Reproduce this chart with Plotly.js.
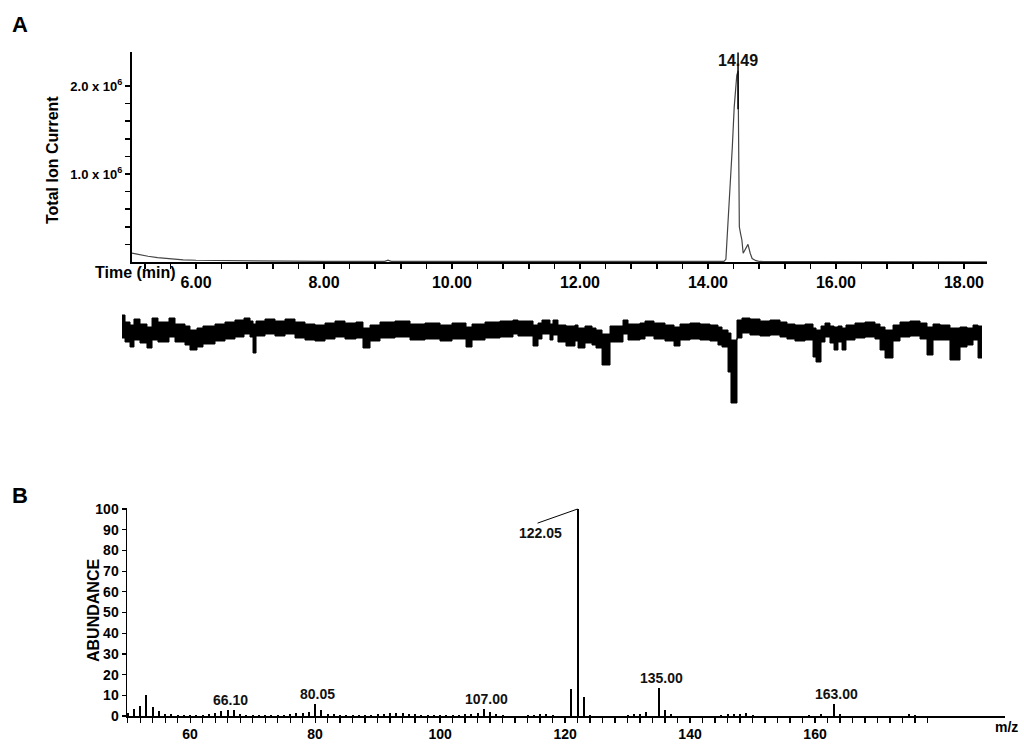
<!DOCTYPE html>
<html>
<head>
<meta charset="utf-8">
<script src="https://cdn.plot.ly/plotly-3.0.1.min.js"></script>
<style>html,body{margin:0;padding:0;background:#fff;}#chart{width:1024px;height:746px;}</style>
</head>
<body>
<div id="chart"></div>
<script>
// ---------- Panel A: total ion chromatogram ----------
const ticTime = [5.00,5.10,5.25,5.40,5.60,5.80,6.00,6.50,7.00,7.50,8.00,8.50,8.95,9.00,9.05,10.0,11.0,12.0,13.0,14.0,14.25,14.28,14.33,14.38,14.41,14.45,14.47,14.48,14.49,14.51,14.53,14.55,14.59,14.625,14.66,14.69,14.75,14.81,15.5,16.5,17.5,18.36];
const ticCurrent = [100000,85000,65000,50000,35000,25000,20000,14000,11000,9000,8000,7000,7000,20000,7000,6000,5000,5000,4000,4000,8000,30000,600000,1300000,1760000,2120000,2170000,1600000,400000,320000,250000,100000,160000,200000,100000,40000,15000,6000,4000,4000,3000,3000];
const peakLabel = "14.49";
const timeTickVals = [6,8,10,12,14,16,18];
const timeTickText = ["6.00","8.00","10.00","12.00","14.00","16.00","18.00"];
const ticTickVals = [1000000,2000000];
const ticTickText = ["1.0 x 10<sup>6</sup>","2.0 x 10<sup>6</sup>"];

// ---------- Detector trace strip (relative signal, envelope of the noisy trace) ----------
const stripTime = [4.844,4.891,4.969,5.031,5.125,5.234,5.313,5.406,5.578,5.672,5.828,5.906,6.016,6.109,6.297,6.453,6.609,6.75,6.844,6.891,6.938,7.078,7.234,7.391,7.547,7.703,7.859,8.016,8.172,8.328,8.5,8.609,8.719,8.875,9.109,9.344,9.578,9.813,10.0,10.219,10.313,10.516,10.75,10.953,11.031,11.266,11.344,11.406,11.531,11.578,11.656,11.781,11.922,11.969,12.078,12.188,12.25,12.344,12.469,12.672,12.75,12.938,13.016,13.156,13.328,13.469,13.563,13.719,13.875,14.031,14.156,14.219,14.313,14.359,14.453,14.531,14.656,14.813,14.969,15.125,15.234,15.359,15.516,15.641,15.688,15.766,15.828,15.906,15.969,16.031,16.094,16.156,16.297,16.453,16.609,16.688,16.766,16.891,17.0,17.156,17.313,17.422,17.516,17.625,17.781,17.938,18.047,18.141,18.219,18.281];
const stripHigh = [15,8,5,11,6,3,12,8,12,6,4,0,2,4,6,8,10,12,9,6,9,11,9,11,8,6,5,7,9,7,8,2,5,8,9,6,7,5,7,3,6,8,9,10,9,5,7,10,6,10,5,4,5,2,4,2,0,-4,4,10,6,7,9,7,5,3,6,7,6,5,3,0,-3,-10,10,12,11,9,10,8,6,5,6,2,0,4,7,4,3,4,2,5,7,8,6,3,0,5,8,9,7,3,6,5,2,3,2,5,4,4];
const stripLow = [-8,-12,-17,-10,-13,-18,-10,-12,-7,-12,-15,-20,-17,-14,-11,-9,-7,-4,-7,-23,-6,-4,-6,-4,-8,-10,-11,-9,-7,-9,-8,-18,-11,-8,-7,-10,-9,-11,-9,-17,-10,-8,-7,-4,-6,-16,-9,-4,-10,-5,-12,-16,-11,-18,-13,-15,-18,-35,-12,-4,-10,-9,-6,-9,-11,-16,-10,-9,-10,-11,-15,-17,-42,-73,-8,-3,-5,-6,-5,-7,-9,-11,-10,-27,-32,-12,-7,-13,-20,-12,-20,-10,-8,-7,-9,-20,-28,-11,-7,-6,-9,-25,-10,-10,-30,-17,-15,-10,-28,-28];

// ---------- Panel B: mass spectrum ----------
const mz = [50,51,52,53,54,55,56,57,58,59,60,61,62,63,64,65,66,67,68,69,70,71,72,73,74,75,76,77,78,79,80,81,82,83,84,85,86,87,88,89,90,91,92,93,94,95,96,97,98,99,100,101,102,103,104,105,106,107,108,109,110,114,115,116,117,118,121,122,123,124,130,131,132,133,135,136,137,145,146,147,148,149,150,159,161,163,164,175,176];
const abundance = [1.5,3.3,4.6,10.2,4.5,2.5,1.2,0.8,0.5,0.6,0.3,0.5,0.6,1.0,1.5,2.2,3.0,2.8,1.2,0.6,0.5,0.5,0.6,0.5,0.7,0.7,0.8,1.5,1.4,1.8,5.8,2.8,1.2,0.8,0.6,0.5,0.5,0.6,0.6,0.7,0.9,1.1,1.5,1.5,1.6,1.0,0.8,0.7,0.6,0.5,0.4,0.4,0.6,0.7,0.8,1.0,1.3,3.5,2.0,1.2,0.6,0.4,0.6,0.8,0.8,0.6,13.2,100,9.0,0.6,0.5,0.8,0.9,1.8,13.7,2.9,0.8,0.7,0.8,1.0,1.2,1.3,0.6,0.6,0.8,5.6,0.8,0.8,0.6];
const labelledMz = [66,80,107,135,163];
const labelledText = ["66.10","80.05","107.00","135.00","163.00"];
const basePeakMz = 122;
const basePeakText = "122.05";
const mzTickVals = [60,80,100,120,140,160];
const mzTickText = ["60","80","100","120","140","160"];
const abTickVals = [0,10,20,30,40,50,60,70,80,90,100];
const abTickText = ["0","10","20","30","40","50","60","70","80","90","100"];

// minor tick positions (axis decoration)
const timeMinor = []; for (let t = 5.2; t <= 18.41; t += 0.4) timeMinor.push(+t.toFixed(2));
const ticMinor = [200000,400000,600000,800000,1200000,1400000,1600000,1800000];
const mzMinor = []; for (let m = 50; m <= 178; m += 2) mzMinor.push(m);

const FONT = "Arial, 'Liberation Sans', Helvetica, sans-serif";
const W = 1024, H = 746;
const px = v => v / W, py = v => 1 - v / H;

// peak apex from data
let apexI = 0; ticCurrent.forEach((v,i)=>{ if (v > ticCurrent[apexI]) apexI = i; });
const apexT = ticTime[apexI], apexV = ticCurrent[apexI];
const baseIdx = mz.indexOf(basePeakMz);

const traces = [
  {x: ticTime, y: ticCurrent, type: 'scatter', mode: 'lines', xaxis: 'x', yaxis: 'y',
   line: {color: '#444', width: 1.2}, hoverinfo: 'skip'},
  {x: stripTime, y: stripLow, type: 'scatter', mode: 'lines', xaxis: 'x3', yaxis: 'y3',
   line: {color: '#000', width: 1, shape: 'hv'}, hoverinfo: 'skip'},
  {x: stripTime, y: stripHigh, type: 'scatter', mode: 'lines', xaxis: 'x3', yaxis: 'y3',
   line: {color: '#000', width: 1, shape: 'hv'}, fill: 'tonexty', fillcolor: '#000', hoverinfo: 'skip'},
  {x: mz, y: abundance, type: 'bar', xaxis: 'x2', yaxis: 'y2', width: 0.33,
   marker: {color: '#000', line: {width: 0}}, hoverinfo: 'skip'}
];

const annotations = [
  {xref:'paper', yref:'paper', x: px(10), y: py(24), xanchor:'left', yanchor:'middle', text:'<b>A</b>', showarrow:false, font:{family:FONT, size:22, color:'#000'}},
  {xref:'paper', yref:'paper', x: px(10), y: py(495), xanchor:'left', yanchor:'middle', text:'<b>B</b>', showarrow:false, font:{family:FONT, size:22, color:'#000'}},
  {xref:'paper', yref:'paper', x: px(178), y: py(272), xanchor:'right', yanchor:'middle', text:'<b>Time (min)</b>', showarrow:false, font:{family:FONT, size:16, color:'#000'}},
  {xref:'paper', yref:'paper', x: px(52), y: py(160), xanchor:'center', yanchor:'middle', textangle:-90, text:'<b>Total Ion Current</b>', showarrow:false, font:{family:FONT, size:16, color:'#000'}},
  {xref:'paper', yref:'paper', x: px(93), y: py(611), xanchor:'center', yanchor:'middle', textangle:-90, text:'<b>ABUNDANCE</b>', showarrow:false, font:{family:FONT, size:16, color:'#000'}},
  {xref:'paper', yref:'paper', x: px(1006), y: py(727), xanchor:'center', yanchor:'middle', text:'<b>m/z</b>', showarrow:false, font:{family:FONT, size:14, color:'#000'}},
  {xref:'x', yref:'paper', x: apexT, y: py(60), xanchor:'center', yanchor:'middle', text: '<b>' + peakLabel + '</b>', showarrow:false, font:{family:FONT, size:16, color:'#111'}},
  {xref:'x2', yref:'y2', x: basePeakMz - 5.9, y: abundance[baseIdx] - 11.6, xanchor:'center', yanchor:'middle', text: '<b>' + basePeakText + '</b>', showarrow:false, font:{family:FONT, size:14, color:'#111'}}
];
labelledMz.forEach((m, i) => {
  annotations.push({xref:'x2', yref:'y2', x: m + 0.4, y: abundance[mz.indexOf(m)], xanchor:'center', yanchor:'bottom', yshift: 0,
    text: '<b>' + labelledText[i] + '</b>', showarrow:false, font:{family:FONT, size:14, color:'#111'}});
});

const shapes = [
  // peak marker line in panel A
  {type:'line', xref:'x', yref:'y', x0: apexT, x1: apexT, y0: apexV * 0.8, y1: 2380000, line:{color:'#000', width:1.5}},
  // leader line for base peak in panel B
  {type:'line', xref:'x2', yref:'y2', x0: basePeakMz - 6.4, y0: abundance[baseIdx] - 6.8, x1: basePeakMz, y1: abundance[baseIdx], line:{color:'#000', width:1}}
];

const layout = {
  width: W, height: H,
  margin: {l:0, r:0, t:0, b:0},
  paper_bgcolor: '#fff', plot_bgcolor: 'rgba(0,0,0,0)',
  showlegend: false,
  bargap: 0,
  xaxis: {domain: [px(132), px(987)], range: [5.0, 18.36], anchor: 'y',
    tickmode: 'array', tickvals: timeTickVals, ticktext: timeTickText,
    ticks: 'outside', ticklen: 5, tickwidth: 1.5, tickcolor: '#000',
    minor: {tickmode: 'array', tickvals: timeMinor, ticks: 'outside', ticklen: 5, tickwidth: 1.5, tickcolor: '#000'},
    showline: true, linecolor: '#000', linewidth: 2, showgrid: false, zeroline: false,
    tickfont: {family: FONT, size: 16, color: '#000', weight: 'bold'}, fixedrange: true},
  yaxis: {domain: [py(262), py(52)], range: [0, 2386000], anchor: 'x',
    tickmode: 'array', tickvals: ticTickVals, ticktext: ticTickText,
    ticks: 'outside', ticklen: 5, tickwidth: 1.5, tickcolor: '#000',
    minor: {tickmode: 'array', tickvals: ticMinor, ticks: 'outside', ticklen: 5, tickwidth: 1.5, tickcolor: '#000'},
    showline: true, linecolor: '#000', linewidth: 2, showgrid: false, zeroline: false,
    tickfont: {family: FONT, size: 13, color: '#000', weight: 'bold'}, fixedrange: true},
  xaxis3: {domain: [0, 1], range: [5 - 132/64, 5 + 892/64], anchor: 'y3', visible: false, fixedrange: true},
  yaxis3: {domain: [py(415), py(300)], range: [-85, 30], anchor: 'x3', visible: false, fixedrange: true},
  xaxis2: {domain: [px(127), px(1005)], range: [49.9, 190.4], anchor: 'y2',
    tickmode: 'array', tickvals: mzTickVals, ticktext: mzTickText,
    ticks: 'outside', ticklen: 5, tickwidth: 1.2, tickcolor: '#000',
    minor: {tickmode: 'array', tickvals: mzMinor, ticks: 'outside', ticklen: 5, tickwidth: 1.2, tickcolor: '#000'},
    showline: true, linecolor: '#000', linewidth: 1.5, showgrid: false, zeroline: false,
    tickfont: {family: FONT, size: 14, color: '#000', weight: 'bold'}, fixedrange: true},
  yaxis2: {domain: [py(716), py(508)], range: [0, 100.5], anchor: 'x2',
    tickmode: 'array', tickvals: abTickVals, ticktext: abTickText,
    ticks: 'outside', ticklen: 4, tickwidth: 1.2, tickcolor: '#000',
    showline: true, linecolor: '#000', linewidth: 1.5, showgrid: false, zeroline: false,
    tickfont: {family: FONT, size: 14, color: '#000', weight: 'bold'}, fixedrange: true},
  annotations: annotations,
  shapes: shapes
};

Plotly.newPlot('chart', traces, layout, {staticPlot: true, displayModeBar: false});
</script>
</body>
</html>
